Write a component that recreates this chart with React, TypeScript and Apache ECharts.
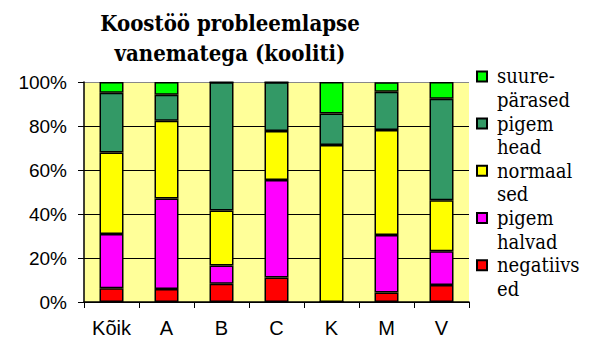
import React, { useEffect, useRef } from "react";
import * as echarts from "echarts";

const categories = ["Kõik", "A", "B", "C", "K", "M", "V"];
const negatiivsed = [6.2, 5.9, 8.3, 11.1, 0, 4.3, 7.7];
const pigemHalvad = [24.7, 41.2, 8.3, 44.4, 0, 26.1, 15.4];
const normaalsed = [37.0, 35.3, 25.0, 22.2, 71.4, 47.8, 23.1];
const pigemHead = [27.2, 11.8, 58.3, 22.2, 14.3, 17.4, 46.2];
const suureparased = [4.9, 5.8, 0, 0, 14.3, 4.3, 7.6];

const seriesNames = ["negatiivsed", "pigem halvad", "normaalsed", "pigem head", "suurepärased"];
const legendLines = ["negatiivs\ned", "pigem\nhalvad", "normaal\nsed", "pigem\nhead", "suure-\npärased"];
const seriesColors = ["#FF0000", "#FF00FF", "#FFFF00", "#339966", "#00FF00"];
const seriesData = [negatiivsed, pigemHalvad, normaalsed, pigemHead, suureparased];
const yTicks = [0, 20, 40, 60, 80, 100];

const SERIF = "DejaVu Serif Condensed";
const SANS = "Liberation Sans";

export default function App() {
  const ref = useRef<HTMLDivElement>(null);
  useEffect(() => {
    if (!ref.current) return;
    const chart = echarts.init(ref.current, null, { renderer: "svg" });
    const labelMap: Record<string, string> = {};
    seriesNames.forEach((n, i) => (labelMap[n] = "\n" + legendLines[i]));
    chart.setOption({
      animation: false,
      textStyle: { fontFamily: SANS },
      title: {
        text: "Koostöö probleemlapse\nvanematega (kooliti)",
        left: 225,
        top: 3,
        textAlign: "center",
        textStyle: {
          fontFamily: SERIF,
          fontSize: 22,
          fontWeight: "bold",
          lineHeight: 30,
          color: "#000",
        },
      },
      legend: {
        orient: "vertical",
        left: 476,
        top: 41,
        padding: 0,
        itemWidth: 10,
        itemHeight: 10,
        itemGap: -23.6,
        icon: "rect",
        data: seriesNames.slice().reverse(),
        formatter: (name: string) => labelMap[name],
        textStyle: {
          fontFamily: SERIF,
          fontSize: 20,
          lineHeight: 23.6,
          color: "#000",
          padding: [0, 0, 0, 5],
        },
      },
      grid: {
        left: 84,
        right: 122,
        top: 82,
        bottom: 45,
        show: true,
        backgroundColor: "#FFFF99",
        borderWidth: 0,
      },
      xAxis: {
        type: "category",
        data: categories,
        axisLine: { lineStyle: { color: "#000", width: 1.5 } },
        axisTick: { show: true, length: 6, lineStyle: { color: "#000" } },
        axisLabel: {
          margin: 16,
          fontFamily: SANS,
          fontSize: 20,
          color: "#000",
        },
      },
      yAxis: {
        type: "value",
        min: 0,
        max: 100,
        interval: 20,
        axisLine: { show: true, lineStyle: { color: "#000", width: 1.5 } },
        axisTick: { show: true, length: 6, lineStyle: { color: "#000" } },
        axisLabel: {
          margin: 17,
          formatter: "{value}%",
          fontFamily: SANS,
          fontSize: 19,
          color: "#000",
        },
        splitLine: {
          lineStyle: {
            color: yTicks.map((t) => (t === 100 ? "#888" : "#000")),
            width: 1,
          },
        },
      },
      series: seriesNames.map((name, i) => ({
        name,
        type: "bar",
        stack: "total",
        barWidth: 24,
        data: seriesData[i],
        itemStyle: { color: seriesColors[i], borderColor: "#000", borderWidth: 1.5 },
      })),
    });
    return () => chart.dispose();
  }, []);
  return (
    <div
      ref={ref}
      style={{ position: "fixed", left: 0, top: 0, width: 591, height: 347, background: "#fff" }}
    />
  );
}
